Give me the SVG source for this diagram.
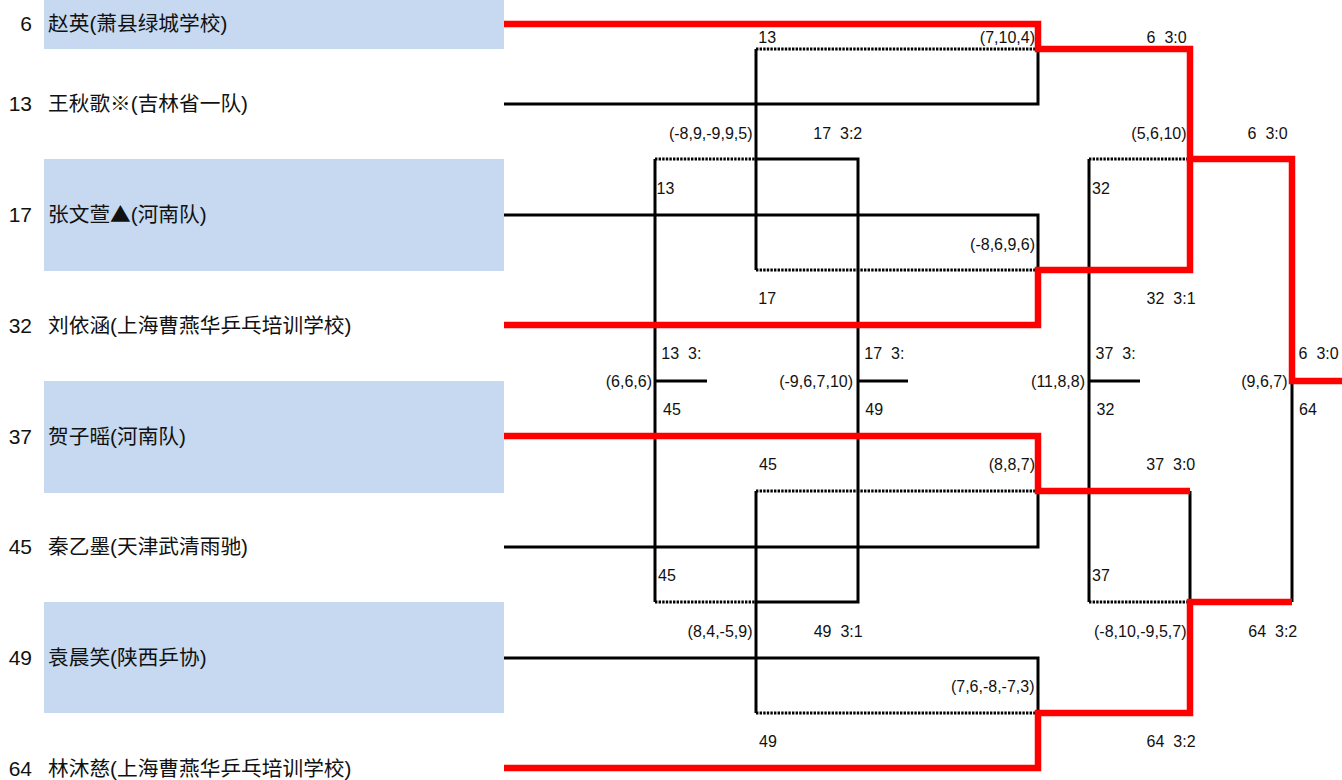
<svg xmlns="http://www.w3.org/2000/svg" width="1342" height="780" viewBox="0 0 1342 780" xml:space="preserve">
<style>
.box{fill:#C6D9F0}
.num{font-family:"Liberation Sans",Arial,"Noto Sans CJK SC",sans-serif;font-size:21px;fill:#111;text-anchor:end}
.name{font-family:"Liberation Sans",Arial,"Noto Sans CJK SC",sans-serif;font-size:20.7px;fill:#111}
.cjk{font-family:"Noto Sans CJK SC",sans-serif}
.lb{font-family:"Liberation Sans",Arial,sans-serif;font-size:16px;fill:#111;white-space:pre}
.r{text-anchor:end}
.blk{fill:none;stroke:#000;stroke-width:3;stroke-linejoin:miter;stroke-linecap:butt}
.dot{fill:none;stroke:#000;stroke-width:3;stroke-dasharray:2.4 1.2}
.red{fill:none;stroke:#FF0000;stroke-width:6.5;stroke-linejoin:miter;stroke-linecap:butt}
</style>
<rect width="1342" height="780" fill="#fff"/>
<g id="players">
<g id="p6"><rect class="box" x="44" y="0" width="460" height="49"/><text class="num" x="32" y="31">6</text><text class="name" x="48" y="31">赵英(萧县绿城学校)</text></g>
<g id="p13"><text class="num" x="32" y="111">13</text><text class="name" x="48" y="111">王秋歌※(吉林省一队)</text></g>
<g id="p17"><rect class="box" x="44" y="159" width="460" height="112"/><text class="num" x="32" y="222">17</text><text class="name" x="48" y="222">张文萱<tspan class="cjk">▲</tspan>(河南队)</text></g>
<g id="p32"><text class="num" x="32" y="333">32</text><text class="name" x="48" y="333">刘依涵(上海曹燕华乒乓培训学校)</text></g>
<g id="p37"><rect class="box" x="44" y="381" width="460" height="112"/><text class="num" x="32" y="443.5">37</text><text class="name" x="48" y="443.5">贺子暚(河南队)</text></g>
<g id="p45"><text class="num" x="32" y="554">45</text><text class="name" x="48" y="554">秦乙墨(天津武清雨驰)</text></g>
<g id="p49"><rect class="box" x="44" y="602" width="460" height="111"/><text class="num" x="32" y="665">49</text><text class="name" x="48" y="665">袁晨笑(陕西乒协)</text></g>
<g id="p64"><text class="num" x="32" y="776">64</text><text class="name" x="48" y="776">林沐慈(上海曹燕华乒乓培训学校)</text></g>
</g>
<g id="connectors">
<path class="dot" d="M756,49H1038M655,159H756M756,270H1038M1089,159H1190M756,491H1038M655,602H756M1089,602H1190M756,713H1038"/>
<path class="blk" d="M504,104H1038V49"/>
<path class="blk" d="M756,49V270"/>
<path class="blk" d="M504,215H1038V270"/>
<path class="blk" d="M756,159H858V602H756"/>
<path class="blk" d="M655,159V602"/>
<path class="blk" d="M655,381H707M858,381H908M1089,381H1140"/>
<path class="blk" d="M1089,159V602"/>
<path class="blk" d="M1190,159V270"/>
<path class="blk" d="M504,547H1038V491"/>
<path class="blk" d="M756,491V713"/>
<path class="blk" d="M504,658H1038V713"/>
<path class="blk" d="M1190,491V602"/>
<path class="blk" d="M1292,381V602"/>
<path class="red" d="M504,24H1038V49H1190V159H1292V381H1342"/>
<path class="red" d="M504,325H1038V270H1190V159"/>
<path class="red" d="M504,436H1038V491H1190"/>
<path class="red" d="M504,768H1038V713H1190V602H1292"/>
</g>
<g id="labels">
<text class="lb" x="758.3" y="43">13</text>
<text class="lb r" x="1035" y="43">(7,10,4)</text>
<text class="lb" x="1146.6" y="43">6  3:0</text>
<text class="lb r" x="752.5" y="138.5">(-8,9,-9,9,5)</text>
<text class="lb" x="813.3" y="138.5">17  3:2</text>
<text class="lb r" x="1186.5" y="138.5">(5,6,10)</text>
<text class="lb" x="1247.6" y="138.5">6  3:0</text>
<text class="lb" x="656.6" y="193.5">13</text>
<text class="lb" x="1092" y="193.5">32</text>
<text class="lb r" x="1035" y="250">(-8,6,9,6)</text>
<text class="lb" x="758.3" y="304">17</text>
<text class="lb" x="1146.6" y="304">32  3:1</text>
<text class="lb" x="661.3" y="359">13  3:</text>
<text class="lb" x="864.3" y="359">17  3:</text>
<text class="lb" x="1095.6" y="359">37  3:</text>
<text class="lb" x="1298.6" y="359">6  3:0</text>
<text class="lb r" x="652" y="386.7">(6,6,6)</text>
<text class="lb r" x="853" y="386.7">(-9,6,7,10)</text>
<text class="lb r" x="1085" y="386.7">(11,8,8)</text>
<text class="lb r" x="1287.5" y="386.7">(9,6,7)</text>
<text class="lb" x="663" y="415">45</text>
<text class="lb" x="865.3" y="415">49</text>
<text class="lb" x="1096.6" y="415">32</text>
<text class="lb" x="1299" y="415">64</text>
<text class="lb" x="759" y="470">45</text>
<text class="lb r" x="1035" y="470">(8,8,7)</text>
<text class="lb" x="1146.3" y="470">37  3:0</text>
<text class="lb" x="658" y="581">45</text>
<text class="lb" x="1092" y="581">37</text>
<text class="lb r" x="752.5" y="636.5">(8,4,-5,9)</text>
<text class="lb" x="813.7" y="636.5">49  3:1</text>
<text class="lb r" x="1186.5" y="636.5">(-8,10,-9,5,7)</text>
<text class="lb" x="1248.3" y="636.5">64  3:2</text>
<text class="lb r" x="1034.5" y="691.7">(7,6,-8,-7,3)</text>
<text class="lb" x="759" y="747">49</text>
<text class="lb" x="1146.6" y="747">64  3:2</text>
</g>
</svg>
